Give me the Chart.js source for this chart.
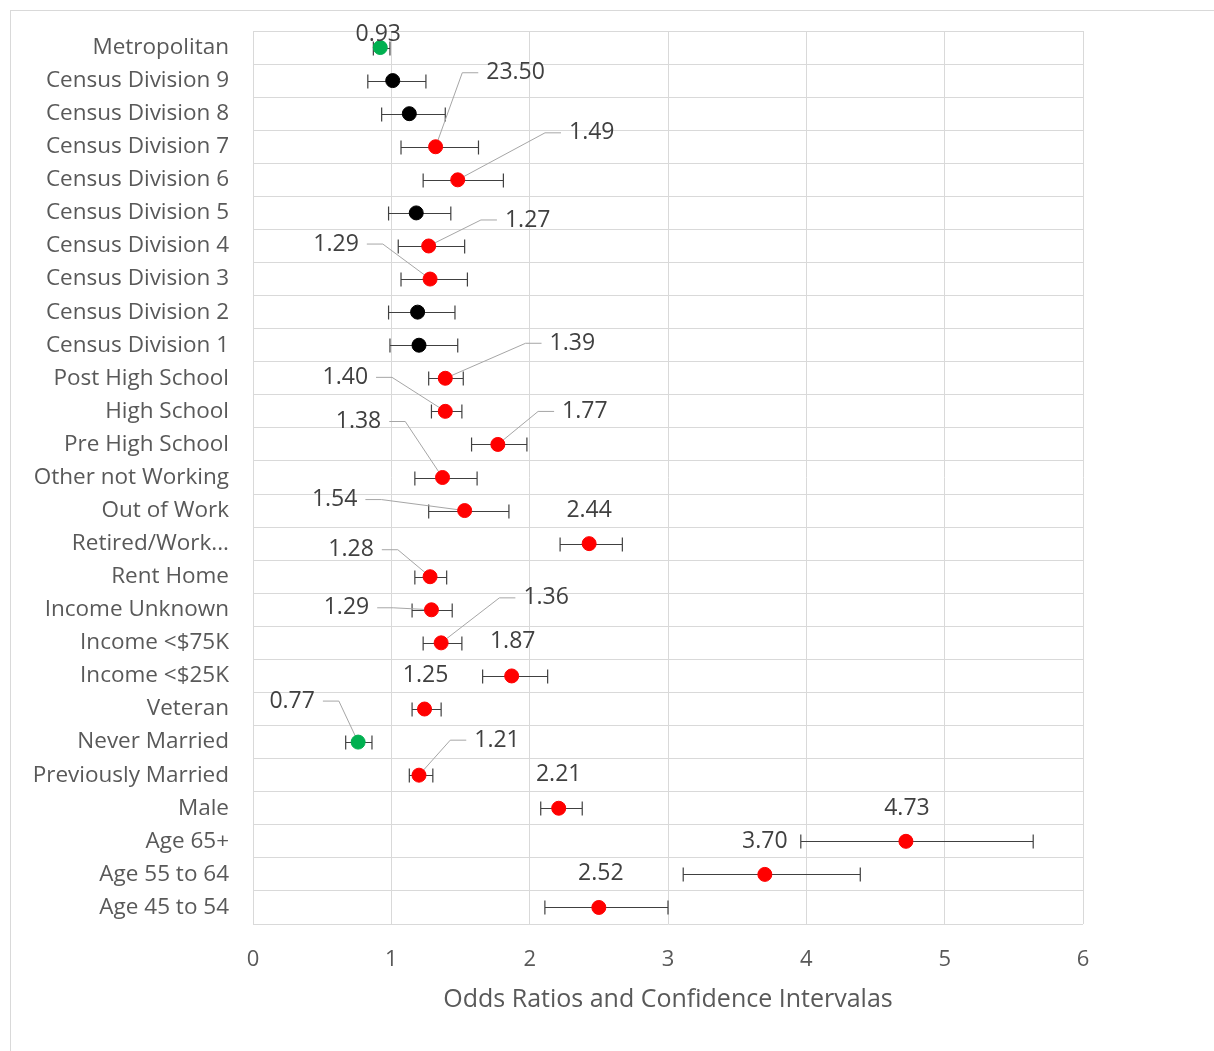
<!DOCTYPE html>
<html>
<head>
<meta charset="utf-8">
<script src="https://cdn.jsdelivr.net/npm/chart.js@4.4.1/dist/chart.umd.min.js"></script>
<style>
html, body { margin: 0; padding: 0; background: #fff; }
#wrap { width: 1214px; height: 1051px; position: relative; }
</style>
</head>
<body>
<div id="wrap"><canvas id="forestChart" width="1214" height="1051"></canvas></div>
<script>
const categories = [
    'Metropolitan', 'Census Division 9', 'Census Division 8', 'Census Division 7',
    'Census Division 6', 'Census Division 5', 'Census Division 4', 'Census Division 3',
    'Census Division 2', 'Census Division 1', 'Post High School', 'High School',
    'Pre High School', 'Other not Working', 'Out of Work', 'Retired/Work...',
    'Rent Home', 'Income Unknown', 'Income <$75K', 'Income <$25K', 'Veteran',
    'Never Married', 'Previously Married', 'Male', 'Age 65+', 'Age 55 to 64', 'Age 45 to 54'
];

const oddsRatios = [0.92, 1.01, 1.13, 1.32, 1.48, 1.18, 1.27, 1.28, 1.19, 1.20, 1.39, 1.39,
    1.77, 1.37, 1.53, 2.43, 1.28, 1.29, 1.36, 1.87, 1.24, 0.76, 1.20, 2.21, 4.72, 3.70, 2.50];
const ciLower = [0.87, 0.83, 0.93, 1.07, 1.23, 0.98, 1.05, 1.07, 0.98, 0.99, 1.27, 1.29,
    1.58, 1.17, 1.27, 2.22, 1.17, 1.15, 1.23, 1.66, 1.15, 0.67, 1.13, 2.08, 3.96, 3.11, 2.11];
const ciUpper = [0.99, 1.25, 1.39, 1.63, 1.81, 1.43, 1.53, 1.55, 1.46, 1.48, 1.52, 1.51,
    1.98, 1.62, 1.85, 2.67, 1.40, 1.44, 1.51, 2.13, 1.36, 0.86, 1.30, 2.38, 5.64, 4.39, 3.00];

// lower = odds below 1, none = not significant, higher = odds above 1
const significance = ['lower', 'none', 'none', 'higher', 'higher', 'none', 'higher', 'higher',
    'none', 'none', 'higher', 'higher', 'higher', 'higher', 'higher', 'higher', 'higher',
    'higher', 'higher', 'higher', 'higher', 'lower', 'higher', 'higher', 'higher', 'higher', 'higher'];

// data labels as they appear on the chart (null = no label)
const labelTexts = ['0.93', null, null, '23.50', '1.49', null, '1.27', '1.29', null, null,
    '1.39', '1.40', '1.77', '1.38', '1.54', '2.44', '1.28', '1.29', '1.36', '1.87', '1.25',
    '0.77', '1.21', '2.21', '4.73', '3.70', '2.52'];

const xTicks = [0, 1, 2, 3, 4, 5, 6];

// label placement relative to point: [dx, dy, leader line?]
const labelPlacement = [
    [-2, -13, false], null, null, [80, -74, true], [134, -47, true], null, [99, -26, true],
    [-94, -35, true], null, null, [127, -35, true], [-100, -34, true], [87, -33, true],
    [-84, -56, true], [-130, -11, true], [0, -33, false], [-79, -27, true], [-85, -2, true],
    [105, -45, true], [1, -34, false], [1, -34, false], [-66, -41, true], [78, -35, true],
    [0, -34, false], [1, -33, false], [0, -33, false], [2, -34, false]
];

const colorFor = { lower: '#00b050', none: '#000000', higher: '#ff0000' };
const pointColors = significance.map(s => colorFor[s]);
const labelFont = '23px "Open Sans"';

const chartBorder = {
    id: 'chartBorder',
    beforeDraw(chart) {
        const ctx = chart.ctx;
        ctx.save();
        ctx.fillStyle = '#ffffff';
        ctx.fillRect(0, 0, chart.width, chart.height);
        ctx.strokeStyle = '#d9d9d9';
        ctx.lineWidth = 1;
        ctx.strokeRect(10.5, 10.5, chart.width + 20, chart.height + 20);
        ctx.restore();
    }
};

// error bars + leader lines, drawn under the markers
const errorBars = {
    id: 'errorBars',
    beforeDatasetsDraw(chart) {
        const ctx = chart.ctx;
        const xs = chart.scales.x;
        const pts = chart.getDatasetMeta(0).data;
        ctx.save();
        ctx.strokeStyle = '#404040';
        ctx.lineWidth = 1.2;
        pts.forEach((p, i) => {
            const x1 = xs.getPixelForValue(ciLower[i]);
            const x2 = xs.getPixelForValue(ciUpper[i]);
            const y = Math.round(p.y) + 0.5;
            ctx.beginPath();
            ctx.moveTo(x1, y); ctx.lineTo(x2, y);
            ctx.moveTo(x1, y - 7); ctx.lineTo(x1, y + 7);
            ctx.moveTo(x2, y - 7); ctx.lineTo(x2, y + 7);
            ctx.stroke();
        });

        ctx.font = labelFont;
        ctx.strokeStyle = '#a6a6a6';
        ctx.lineWidth = 1;
        pts.forEach((p, i) => {
            const place = labelPlacement[i];
            if (!labelTexts[i] || !place || !place[2]) return;
            const w = ctx.measureText(labelTexts[i]).width;
            const cx = p.x + place[0];
            const cy = p.y + place[1];
            const dir = place[0] > 0 ? -1 : 1;
            const sx = cx + dir * (w / 2 + 8);
            ctx.beginPath();
            ctx.moveTo(sx, cy);
            ctx.lineTo(sx + dir * 16, cy);
            ctx.lineTo(p.x, p.y);
            ctx.stroke();
        });
        ctx.restore();
    },
    afterDatasetsDraw(chart) {
        const ctx = chart.ctx;
        const pts = chart.getDatasetMeta(0).data;
        ctx.save();
        ctx.font = labelFont;
        ctx.fillStyle = '#404040';
        ctx.textAlign = 'center';
        ctx.textBaseline = 'middle';
        pts.forEach((p, i) => {
            const place = labelPlacement[i];
            if (!labelTexts[i] || !place) return;
            ctx.fillText(labelTexts[i], p.x + place[0], p.y + place[1]);
        });
        ctx.restore();
    }
};

const ctx = document.getElementById('forestChart').getContext('2d');
new Chart(ctx, {
    type: 'scatter',
    data: {
        datasets: [{
            label: 'Odds Ratio',
            data: categories.map((c, i) => ({ x: oddsRatios[i], y: c })),
            backgroundColor: pointColors,
            borderColor: pointColors,
            pointRadius: 7,
            pointHoverRadius: 7
        }]
    },
    options: {
        responsive: false,
        animation: false,
        layout: { padding: { top: 31, right: 131, left: 0, bottom: 0 } },
        plugins: {
            legend: { display: false },
            tooltip: { enabled: false }
        },
        scales: {
            x: {
                type: 'linear',
                min: xTicks[0],
                max: xTicks[xTicks.length - 1],
                afterBuildTicks: (scale) => { scale.ticks = xTicks.map(v => ({ value: v })); },
                afterFit: (scale) => { scale.height = 127; },
                grid: { color: '#d9d9d9', drawTicks: false },
                border: { display: false },
                ticks: { color: '#595959', font: { family: 'Open Sans', size: 22 }, padding: 23 },
                title: {
                    display: true,
                    text: 'Odds Ratios and Confidence Intervalas',
                    color: '#595959',
                    font: { family: 'Open Sans', size: 25 },
                    padding: { top: 0, bottom: 36 }
                }
            },
            y: {
                type: 'category',
                labels: categories,
                offset: true,
                afterFit: (scale) => {
                    scale.width = 253;
                    scale.paddingTop = 0;
                    scale.paddingBottom = 0;
                },
                grid: { color: '#d9d9d9', offset: true, drawTicks: false },
                border: { color: '#d9d9d9' },
                ticks: { color: '#595959', font: { family: 'Open Sans', size: 22.5 }, padding: 24, autoSkip: false }
            }
        }
    },
    plugins: [chartBorder, errorBars]
});
</script>
</body>
</html>
